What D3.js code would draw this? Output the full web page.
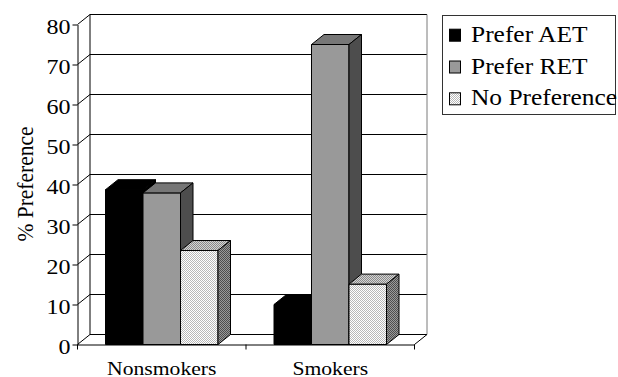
<!DOCTYPE html>
<html>
<head>
<meta charset="utf-8">
<script src="https://cdn.jsdelivr.net/npm/d3@7/dist/d3.min.js"></script>
<style>
  html, body { margin: 0; padding: 0; background: #fff; }
  svg { display: block; }
</style>
</head>
<body>
<svg id="chart" width="618" height="377"></svg>
<script>
// Survey results: share of respondents preferring each treatment
const categories = ["Nonsmokers", "Smokers"];
const seriesNames = ["Prefer AET", "Prefer RET", "No Preference"];
const preferAET = [38.7, 10];
const preferRET = [37.9, 75];
const noPreference = [23.5, 15.1];
const yTicks = [0, 10, 20, 30, 40, 50, 60, 70, 80];

const seriesValues = [preferAET, preferRET, noPreference];
const SERIF = "'Liberation Serif', 'Times New Roman', Times, serif";

const svg = d3.select("#chart");
const defs = svg.append("defs");

// Fine checker fills for the "No Preference" bar faces
function checker(id, a, b) {
  const p = defs.append("pattern").attr("id", id)
    .attr("patternUnits", "userSpaceOnUse").attr("width", 2).attr("height", 2);
  p.append("rect").attr("width", 2).attr("height", 2).attr("fill", a);
  p.append("rect").attr("width", 1).attr("height", 1).attr("fill", b);
  p.append("rect").attr("x", 1).attr("y", 1).attr("width", 1).attr("height", 1).attr("fill", b);
}
checker("dotFront", "#ffffff", "#b8b8b8");
checker("dotTop", "#d4d4d4", "#8a8a8a");
checker("dotSide", "#9a9a9a", "#4e4e4e");

const faces = [
  { front: "#000000", top: "#000000", side: "#000000" },
  { front: "#999999", top: "#777777", side: "#4d4d4d" },
  { front: "url(#dotFront)", top: "url(#dotTop)", side: "url(#dotSide)" }
];

// Depth offset of the 3-D box
const DX = 12.5, DY = -10;

const y = d3.scaleLinear().domain([0, 80]).range([344.5, 24.5]);
const x0 = d3.scaleBand().domain(categories).range([77.5, 414.5]);
const x1 = d3.scaleBand().domain(seriesNames).range([28, 140.5]);

const left = x0.range()[0], right = x0.range()[1];
const y0 = y(0), yTop = y(80);

const wall = svg.append("g");

const line = (xa, ya, xb, yb, stroke) => wall.append("line")
  .attr("x1", xa).attr("y1", ya).attr("x2", xb).attr("y2", yb)
  .attr("stroke", stroke || "#000").attr("stroke-width", 1);

// gridlines on the back wall + diagonals on the left side wall
yTicks.forEach(v => {
  line(left + DX, y(v) + DY, right + DX, y(v) + DY);
  line(left, y(v), left + DX, y(v) + DY);
});
line(left + DX, yTop + DY, left + DX, y0 + DY);              // back-left edge
line(right + DX, yTop + DY, right + DX, y0 + DY, "#7a7a7a"); // back-right edge
line(right, y0, right + DX, y0 + DY);                         // floor right edge

// front value axis
const yAxis = d3.axisLeft(y).tickValues(yTicks).tickSize(5).tickSizeOuter(0).tickPadding(0);
const yAx = svg.append("g").attr("transform", `translate(${left},0)`).call(yAxis);
yAx.select(".domain").attr("stroke", "#000");
yAx.selectAll(".tick line").attr("stroke", "#000");
yAx.selectAll(".tick text")
  .attr("x", 0).attr("dy", null).attr("y", 0)
  .style("font-family", SERIF).style("font-size", "20.5px").style("fill", "#000")
  .attr("text-anchor", "end")
  .attr("transform", "translate(-7,9) scale(1.17,1)");

// front floor (category axis)
const xAxis = d3.axisBottom(x0).tickSize(0).tickSizeOuter(0).tickFormat("");
const xAx = svg.append("g").attr("transform", `translate(0,${y0})`).call(xAxis);
xAx.select(".domain").attr("stroke", "#000");
xAx.selectAll(".tick").remove();
const catTicks = [...categories.map(c => x0(c)), right];
svg.append("g").selectAll("line").data(catTicks).join("line")
  .attr("x1", d => d).attr("x2", d => d)
  .attr("y1", y0).attr("y2", y0 + 5).attr("stroke", "#000");

svg.append("g").selectAll("text").data(categories).join("text")
  .attr("text-anchor", "middle")
  .style("font-family", SERIF).style("font-size", "19px").style("fill", "#000")
  .attr("transform", d => `translate(${x0(d) + x0.bandwidth() / 2},374.5) scale(1.14,1)`)
  .text(d => d);

// 3-D bars
const bars = svg.append("g");
categories.forEach((cat, ci) => {
  seriesNames.forEach((s, si) => {
    const v = seriesValues[si][ci];
    const xa = x0(cat) + x1(s);
    const xb = xa + x1.bandwidth();
    const yt = y(v);
    const f = faces[si];
    const g = bars.append("g").attr("stroke", "#000").attr("stroke-width", 1)
      .attr("stroke-linejoin", "round");
    g.append("rect").attr("x", xa).attr("y", yt)
      .attr("width", xb - xa).attr("height", y0 - yt).attr("fill", f.front);
    g.append("path").attr("fill", f.top)
      .attr("d", `M${xa},${yt}L${xb},${yt}L${xb + DX},${yt + DY}L${xa + DX},${yt + DY}Z`);
    g.append("path").attr("fill", f.side)
      .attr("d", `M${xb},${yt}L${xb + DX},${yt + DY}L${xb + DX},${y0 + DY}L${xb},${y0}Z`);
  });
});

// y-axis title
svg.append("text")
  .attr("text-anchor", "middle")
  .style("font-family", SERIF).style("font-size", "21.5px").style("fill", "#000")
  .attr("transform", "translate(33,184) scale(1.12,1) rotate(-90)")
  .text("% Preference");

// legend
const legend = svg.append("g");
legend.append("rect").attr("x", 442.5).attr("y", 15.5).attr("width", 173).attr("height", 99)
  .attr("fill", "#fff").attr("stroke", "#333");
const legendFill = ["#000000", "#999999", "url(#dotFront)"];
seriesNames.forEach((s, i) => {
  const by = 41.7 + i * 31.8;
  legend.append("rect").attr("x", 449.5).attr("y", by - 12.5).attr("width", 11).attr("height", 12)
    .attr("fill", legendFill[i]).attr("stroke", "#000");
  legend.append("text")
    .style("font-family", SERIF).style("font-size", "22.5px").style("fill", "#000")
    .attr("transform", `translate(471,${by}) scale(1.13,1)`)
    .text(s);
});
</script>
</body>
</html>
